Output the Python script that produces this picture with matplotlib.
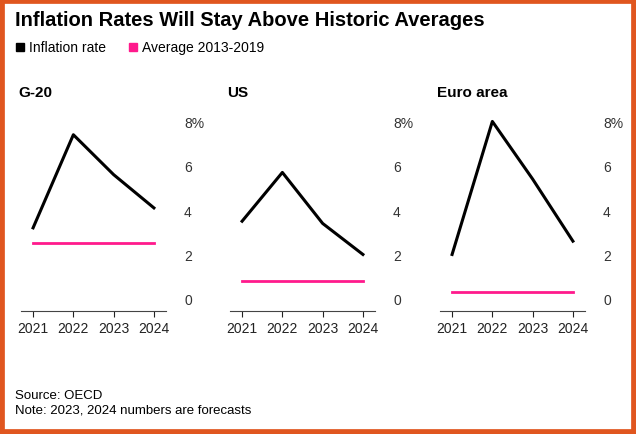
import matplotlib.pyplot as plt
from matplotlib.patches import Rectangle

years = [2021, 2022, 2023, 2024]
regions = ["G-20", "US", "Euro area"]
inflation = [
    [3.2, 7.4, 5.6, 4.1],
    [3.5, 5.7, 3.4, 2.0],
    [2.0, 8.0, 5.4, 2.6],
]
averages = [2.5, 0.8, 0.3]
yticks = [0, 2, 4, 6, 8]
ylabels = ["0", "2", "4", "6", "8%"]

W, H = 636, 435
fig = plt.figure(figsize=(W / 100, H / 100), dpi=100)
plt.rcParams['font.family'] = ['Liberation Sans', 'DejaVu Sans']

# orange frame
fig.patches.append(Rectangle((0, 0), 1, 1, transform=fig.transFigure, fill=False,
                             edgecolor="#e0561f", linewidth=7))

fig.text(15 / W, 1 - 20 / H, "Inflation Rates Will Stay Above Historic Averages",
         fontsize=14.5, fontweight="bold", va="center")
fig.patches.append(Rectangle((16 / W, 1 - 52 / H), 8 / W, 8 / H, transform=fig.transFigure,
                             color="black"))
fig.text(29 / W, 1 - 48 / H, "Inflation rate", fontsize=10, va="center")
fig.patches.append(Rectangle((129 / W, 1 - 52 / H), 8 / W, 8 / H, transform=fig.transFigure,
                             color="#ff1a8c"))
fig.text(142 / W, 1 - 48 / H, "Average 2013-2019", fontsize=10, va="center")

lefts = [21, 230, 440]
for i, name in enumerate(regions):
    ax = fig.add_axes([lefts[i] / W, 1 - 312 / H, 145 / W, 194 / H])
    ax.plot(years, inflation[i], color="black", linewidth=2.2)
    ax.plot(years, [averages[i]] * 4, color="#ff1a8c", linewidth=2)
    ax.set_xlim(2020.7, 2024.3)
    ax.set_ylim(-0.55, 8.2)
    ax.set_xticks(years)
    ax.set_yticks(yticks)
    ax.set_yticklabels(ylabels)
    ax.yaxis.tick_right()
    for s in ["top", "left", "right"]:
        ax.spines[s].set_visible(False)
    ax.spines["bottom"].set_color("#444444")
    ax.tick_params(axis="y", length=0, labelsize=10, pad=13, colors="#333333")
    ax.tick_params(axis="x", length=4, labelsize=10, colors="#222222")
    fig.text((lefts[i] - 3) / W, 1 - 93 / H, name, fontsize=11, fontweight="bold", va="center")

fig.text(15 / W, 1 - 396 / H, "Source: OECD", fontsize=9.5, va="center")
fig.text(15 / W, 1 - 411 / H, "Note: 2023, 2024 numbers are forecasts", fontsize=9.5, va="center")

fig.savefig("out.png", dpi=100)
